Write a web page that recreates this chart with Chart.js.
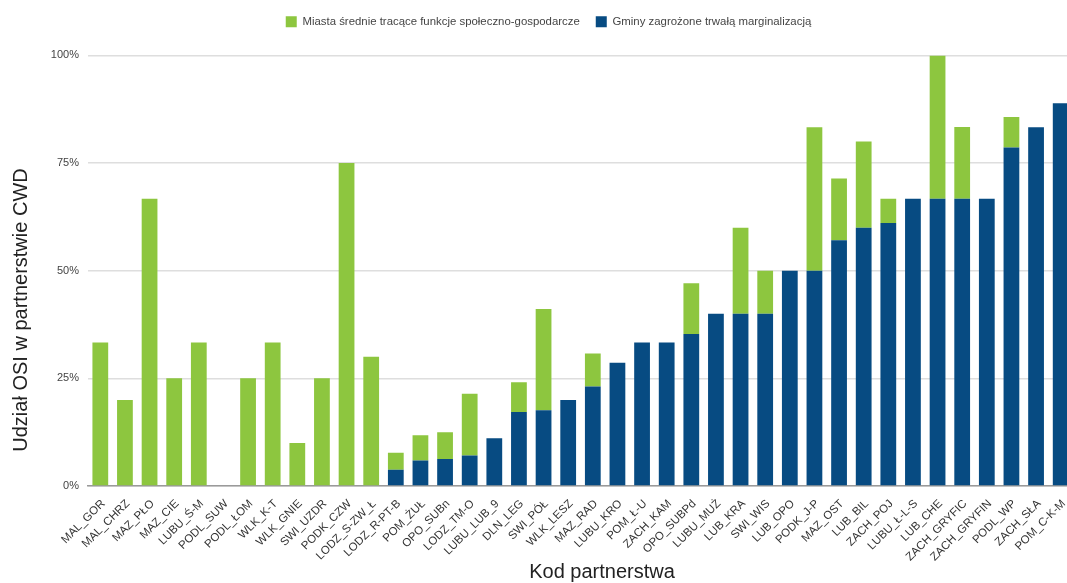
<!DOCTYPE html>
<html>
<head>
<meta charset="utf-8">
<script src="https://cdn.jsdelivr.net/npm/chart.js@4"></script>
<style>
  body { margin: 0; overflow: hidden; background: #fff; }
  #wrap { width: 1080px; height: 583px; }
</style>
</head>
<body>
<div id="wrap"><canvas id="chart" width="1080" height="583"></canvas></div>
<script>
// kody partnerstw
var partnerstwa = ['MAL_GOR', 'MAL_CHRZ', 'MAZ_PŁO', 'MAZ_CIE', 'LUBU_Ś-M', 'PODL_SUW', 'PODL_ŁOM', 'WLK_K-T',
    'WLK_GNIE', 'SWI_UZDR', 'PODK_CZW', 'LODZ_S-ZW_Ł', 'LODZ_R-PT-B', 'POM_ŻUŁ', 'OPO_SUBn', 'LODZ_TM-O',
    'LUBU_LUB_9', 'DLN_LEG', 'SWI_PÓŁ', 'WLK_LESZ', 'MAZ_RAD', 'LUBU_KRO', 'POM_Ł-U', 'ZACH_KAM',
    'OPO_SUBPd', 'LUBU_MUŻ', 'LUB_KRA', 'SWI_WIS', 'LUB_OPO', 'PODK_J-P', 'MAZ_OST', 'LUB_BIL',
    'ZACH_POJ', 'LUBU_Ł-L-S', 'LUB_CHE', 'ZACH_GRYFIC', 'ZACH_GRYFIN', 'PODL_WP', 'ZACH_SŁA', 'POM_C-K-M'];

// Gminy zagrożone trwałą marginalizacją (%)
var gminy = [0, 0, 0, 0, 0, 0, 0, 0,
    0, 0, 0, 0, 3.8, 5.9, 6.25, 7.1,
    11.1, 17.2, 17.6, 20, 23.1, 28.6, 33.3, 33.3,
    35.3, 40, 40, 40, 50, 50, 57.1, 60,
    61.1, 66.7, 66.7, 66.7, 66.7, 78.6, 83.3, 88.9];

// Miasta średnie tracące funkcje społeczno-gospodarcze (%), część nad gminami
var miasta = [33.3, 20, 66.7, 25, 33.3, 0, 25, 33.3,
    10, 25, 75, 30, 3.9, 5.9, 6.25, 14.3,
    0, 6.9, 23.5, 0, 7.7, 0, 0, 0,
    11.8, 0, 20, 10, 0, 33.3, 14.3, 20,
    5.6, 0, 33.3, 16.7, 0, 7.1, 0, 0];

var yTicks = [0, 25, 50, 75, 100];
var xTitle = 'Kod partnerstwa';
var yTitle = 'Udział OSI w partnerstwie CWD';

var FONT = "'Liberation Sans', Arial, sans-serif";

// odstęp pod legendą + lekkie przesunięcie w prawo
var legendTweak = {
    id: 'legendTweak',
    beforeInit: function(chart) {
        var legend = chart.legend;
        var fit = legend.fit;
        legend.fit = function() {
            fit.call(this);
            this.height += 18;
        };
        var draw = legend.draw;
        legend.draw = function() {
            var ctx = this.ctx;
            ctx.save();
            ctx.translate(12, 0);
            draw.call(this);
            ctx.restore();
        };
    }
};

// tytuły osi
var axisTitles = {
    id: 'axisTitles',
    afterDraw: function(chart) {
        var ctx = chart.ctx;
        ctx.save();
        ctx.fillStyle = '#222';
        ctx.font = '20px ' + FONT;
        ctx.textAlign = 'center';
        ctx.textBaseline = 'middle';
        ctx.fillText(xTitle, 602, 572);
        ctx.translate(21, 310);
        ctx.rotate(-Math.PI / 2);
        ctx.fillText(yTitle, 0, 0);
        ctx.restore();
    }
};

new Chart(document.getElementById('chart'), {
    type: 'bar',
    data: {
        labels: partnerstwa,
        datasets: [{
            label: 'Gminy zagrożone trwałą marginalizacją',
            data: gminy,
            backgroundColor: '#074B82',
            borderWidth: 0
        }, {
            label: 'Miasta średnie tracące funkcje społeczno-gospodarcze',
            data: miasta,
            backgroundColor: '#8DC63F',
            borderWidth: 0
        }]
    },
    options: {
        responsive: false,
        animation: false,
        devicePixelRatio: 1,
        layout: { padding: { top: 0, right: 7, left: 0, bottom: 0 } },
        datasets: { bar: { barPercentage: 0.64, categoryPercentage: 1 } },
        plugins: {
            tooltip: { enabled: false },
            legend: {
                reverse: true,
                labels: {
                    boxWidth: 11,
                    boxHeight: 11,
                    padding: 16,
                    color: '#444',
                    font: { family: FONT, size: 11.4 }
                }
            }
        },
        scales: {
            x: {
                stacked: true,
                grid: { display: false },
                border: { color: '#9a9a9a', width: 1.5 },
                ticks: {
                    autoSkip: false,
                    maxRotation: 45,
                    minRotation: 45,
                    labelOffset: 3,
                    color: '#333',
                    font: { family: FONT, size: 11.5 }
                },
                afterFit: function(scale) { scale.height = 97; }
            },
            y: {
                stacked: true,
                min: 0,
                max: 100,
                border: { display: false },
                grid: { color: '#dedede', lineWidth: 1.5, drawTicks: false },
                afterBuildTicks: function(scale) {
                    scale.ticks = yTicks.map(function(v) { return { value: v }; });
                },
                ticks: {
                    padding: 9,
                    color: '#444',
                    font: { family: FONT, size: 11 },
                    callback: function(v) { return v + '%'; }
                },
                afterFit: function(scale) { scale.width = 88; }
            }
        }
    },
    plugins: [legendTweak, axisTitles]
});
</script>
</body>
</html>
